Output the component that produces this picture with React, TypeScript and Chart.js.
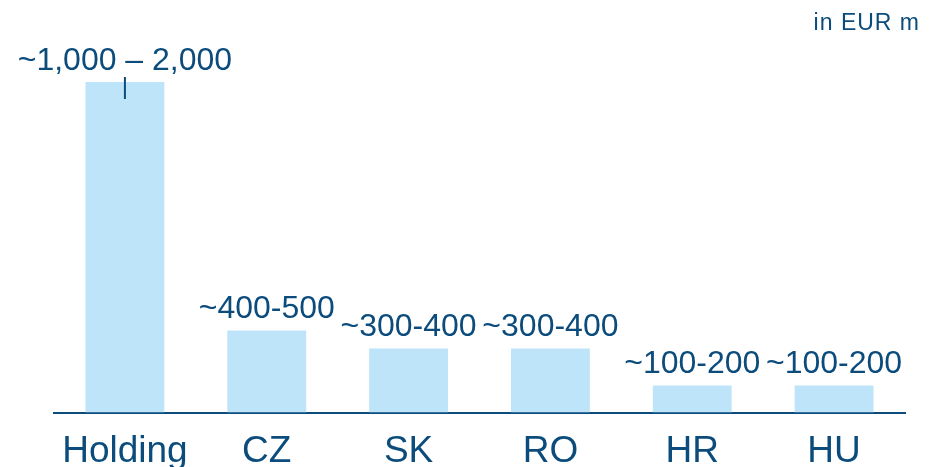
import React, { useEffect, useRef } from "react";
import { Chart, registerables } from "chart.js";

Chart.register(...registerables);

const categories = ["Holding", "CZ", "SK", "RO", "HR", "HU"];
const values = [2000, 497, 388, 388, 164, 164];
const valueLabels = ["~1,000 – 2,000", "~400-500", "~300-400", "~300-400", "~100-200", "~100-200"];
const unitLabel = "in EUR m";

const TEXT = "#0c4c7c";
const BAR = "#bee4f9";
const FONT = "'Liberation Sans', Arial, sans-serif";

const labelPlugin = {
  id: "valueLabels",
  afterDatasetsDraw(chart: any) {
    const ctx = chart.ctx;
    const meta = chart.getDatasetMeta(0);
    ctx.save();
    ctx.fillStyle = TEXT;
    ctx.font = `32px ${FONT}`;
    ctx.textAlign = "center";
    ctx.textBaseline = "alphabetic";
    meta.data.forEach((bar: any, i: number) => {
      ctx.fillText(valueLabels[i], bar.x, bar.y - 12);
    });
    // range marker on the first bar
    const first = meta.data[0];
    if (first) {
      ctx.strokeStyle = TEXT;
      ctx.lineWidth = 2;
      ctx.beginPath();
      ctx.moveTo(first.x, first.y - 5);
      ctx.lineTo(first.x, first.y + 17);
      ctx.stroke();
    }
    // unit label
    ctx.font = `23px ${FONT}`;
    try {
      (ctx as any).letterSpacing = "1px";
    } catch (e) {}
    ctx.textAlign = "right";
    ctx.textBaseline = "alphabetic";
    ctx.fillText(unitLabel, 920, 30);
    ctx.restore();
  },
};

export default function App() {
  const ref = useRef<HTMLCanvasElement>(null);
  useEffect(() => {
    if (!ref.current) return;
    const chart = new Chart(ref.current, {
      type: "bar",
      data: {
        labels: categories,
        datasets: [
          {
            data: values,
            backgroundColor: BAR,
            borderWidth: 0,
            categoryPercentage: 0.556,
            barPercentage: 1,
          },
        ],
      },
      options: {
        responsive: false,
        animation: false,
        layout: { padding: { top: 82, left: 54, right: 35, bottom: -24 } },
        plugins: {
          legend: { display: false },
          tooltip: { enabled: false },
          title: { display: false },
        },
        scales: {
          x: {
            grid: { display: false, drawTicks: false },
            border: { display: true, color: TEXT, width: 2 },
            ticks: {
              color: TEXT,
              font: { size: 37, family: FONT },
              padding: 17,
              maxRotation: 0,
            },
          },
          y: {
            display: false,
            min: 0,
            max: 2000,
          },
        },
      },
      plugins: [labelPlugin],
    });
    return () => chart.destroy();
  }, []);
  return (
    <div style={{ position: "absolute", left: 0, top: 0, width: 940, height: 467, background: "#fff", overflow: "hidden" }}>
      <canvas ref={ref} width={940} height={467} />
    </div>
  );
}
